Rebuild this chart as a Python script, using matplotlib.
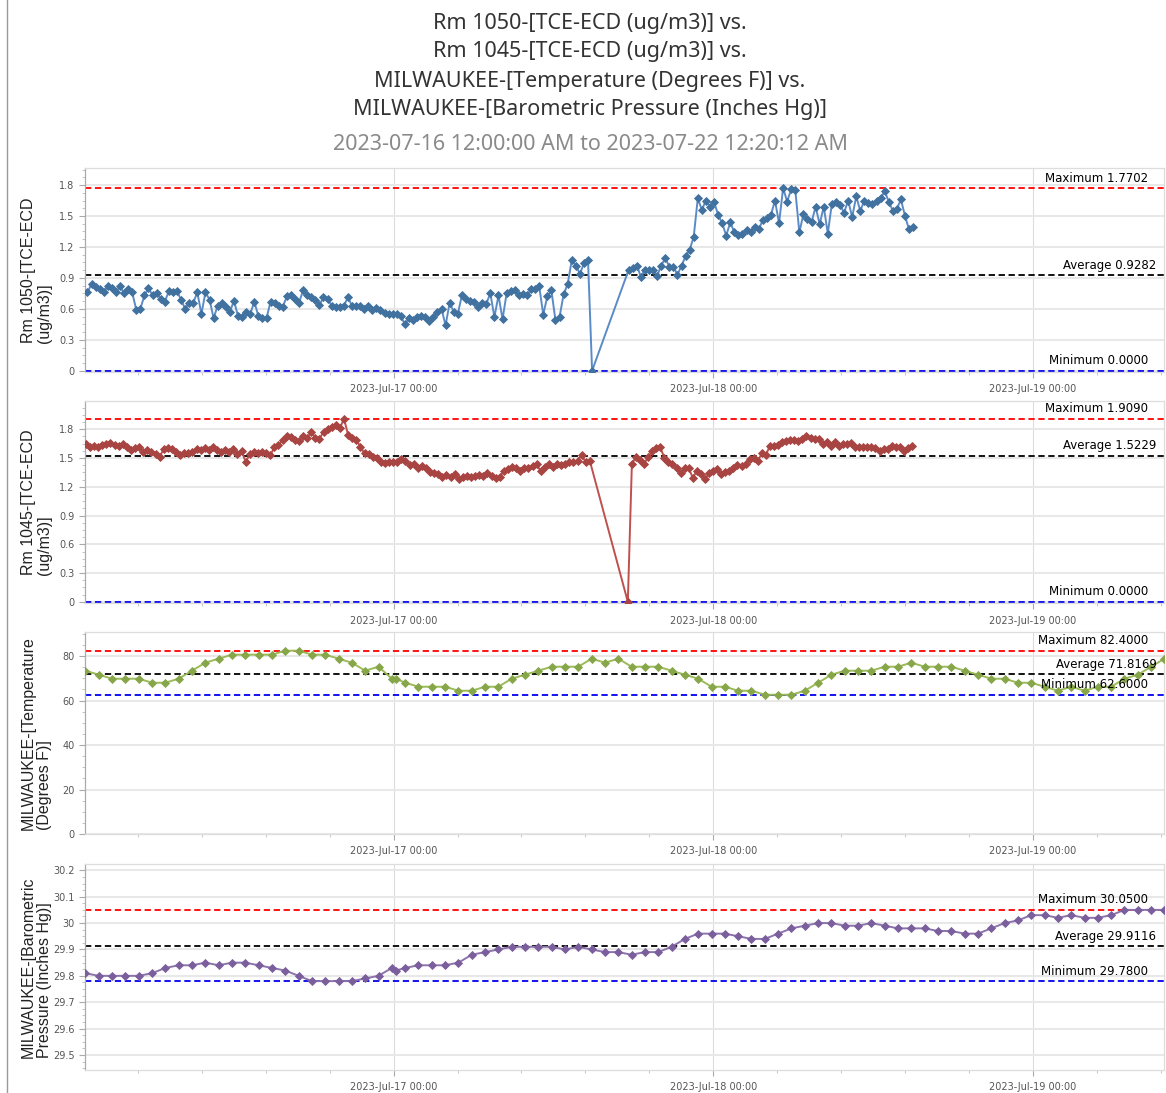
import numpy as np
import pandas as pd
import matplotlib
matplotlib.use("Agg")
import matplotlib.pyplot as plt
import matplotlib.dates as mdates
from matplotlib.ticker import MultipleLocator, FuncFormatter
from matplotlib.lines import Line2D

# ---------------- data ----------------
# Rm 1050 TCE-ECD, two runs separated by a gap in sampling
rm1050_a = [0.76, 0.84, 0.81, 0.79, 0.76, 0.82, 0.80, 0.76, 0.82, 0.75, 0.79, 0.76, 0.59, 0.60,
            0.73, 0.80, 0.73, 0.75, 0.70, 0.67, 0.77, 0.76, 0.77, 0.69, 0.60, 0.66, 0.66, 0.76,
            0.55, 0.76, 0.69, 0.51, 0.63, 0.66, 0.62, 0.57, 0.68, 0.53, 0.52, 0.57, 0.55, 0.67,
            0.53, 0.51, 0.51, 0.67, 0.66, 0.63, 0.62, 0.72, 0.73, 0.70, 0.66, 0.78, 0.73, 0.71,
            0.69, 0.64, 0.71, 0.70, 0.63, 0.62, 0.62, 0.63, 0.71, 0.63, 0.63, 0.63, 0.60, 0.63,
            0.59, 0.61, 0.59, 0.56, 0.55, 0.55, 0.55, 0.53, 0.45, 0.51, 0.49, 0.52, 0.53, 0.52,
            0.48, 0.52, 0.57, 0.60, 0.44, 0.66, 0.57, 0.55, 0.73, 0.70, 0.68, 0.67, 0.62, 0.66,
            0.65, 0.75, 0.52, 0.73, 0.50, 0.75, 0.77, 0.78, 0.73, 0.745, 0.73, 0.79, 0.79, 0.82,
            0.545, 0.72, 0.78, 0.49, 0.52, 0.74, 0.84, 1.07, 1.02, 0.94, 1.04, 1.07, 0.00]
rm1050_a_span = ("2023-07-16 01:01", "2023-07-17 14:54")
rm1050_b = [0.98, 1.00, 1.02, 0.91, 0.98, 0.98, 0.98, 0.92, 1.02, 1.09, 1.01, 1.01, 0.93, 1.02,
            1.11, 1.17, 1.30, 1.67, 1.56, 1.65, 1.59, 1.64, 1.51, 1.43, 1.31, 1.44, 1.34, 1.32,
            1.33, 1.36, 1.34, 1.39, 1.37, 1.46, 1.48, 1.51, 1.65, 1.43, 1.7702, 1.64, 1.76, 1.75,
            1.34, 1.52, 1.47, 1.44, 1.59, 1.42, 1.59, 1.33, 1.62, 1.64, 1.61, 1.53, 1.65, 1.49,
            1.69, 1.55, 1.65, 1.63, 1.62, 1.65, 1.67, 1.74, 1.64, 1.55, 1.57, 1.66, 1.50, 1.37, 1.39]
rm1050_b_span = ("2023-07-17 17:39", "2023-07-18 15:00")

# Rm 1045 TCE-ECD
rm1045_a = [1.643, 1.618, 1.63, 1.618, 1.635, 1.643, 1.66, 1.635, 1.63, 1.643, 1.61, 1.583, 1.60,
            1.61, 1.566, 1.583, 1.566, 1.538, 1.514, 1.594, 1.60, 1.594, 1.56, 1.531, 1.548, 1.556,
            1.566, 1.594, 1.583, 1.60, 1.583, 1.618, 1.583, 1.566, 1.583, 1.566, 1.594, 1.538, 1.573,
            1.46, 1.538, 1.566, 1.548, 1.566, 1.548, 1.531, 1.61, 1.635, 1.688, 1.733, 1.722, 1.688,
            1.678, 1.733, 1.705, 1.775, 1.712, 1.70, 1.775, 1.80, 1.826, 1.844, 1.816, 1.909, 1.74,
            1.705, 1.688, 1.618, 1.548, 1.538, 1.514, 1.496, 1.455, 1.444, 1.455, 1.455, 1.462, 1.49,
            1.469, 1.427, 1.434, 1.399, 1.42, 1.399, 1.357, 1.34, 1.33, 1.305, 1.322, 1.305, 1.33,
            1.28, 1.305, 1.315, 1.305, 1.315, 1.322, 1.315, 1.34, 1.315, 1.295, 1.305, 1.364, 1.385,
            1.409, 1.392, 1.364, 1.392, 1.399, 1.42, 1.434, 1.364, 1.409, 1.441, 1.409, 1.441, 1.427,
            1.441, 1.455, 1.462, 1.469, 1.531, 1.455, 1.469]
rm1045_a_span = ("2023-07-16 00:54", "2023-07-17 14:44")
rm1045_b = [0.0, 1.441, 1.51, 1.476, 1.441, 1.51, 1.573, 1.60, 1.61, 1.504, 1.462, 1.434, 1.399,
            1.34, 1.392, 1.392, 1.295, 1.364, 1.33, 1.28, 1.34, 1.364, 1.385, 1.33, 1.357, 1.364,
            1.392, 1.427, 1.42, 1.441, 1.486, 1.504, 1.469, 1.548, 1.531, 1.63, 1.63, 1.635, 1.663,
            1.678, 1.688, 1.688, 1.678, 1.698, 1.733, 1.705, 1.698, 1.698, 1.643, 1.663, 1.63, 1.663,
            1.63, 1.643, 1.643, 1.653, 1.61, 1.61, 1.61, 1.61, 1.618, 1.60, 1.573, 1.594, 1.594,
            1.63, 1.61, 1.61, 1.573, 1.60, 1.63]
rm1045_b_span = ("2023-07-17 17:35", "2023-07-18 14:55")

# MILWAUKEE hourly observations (:52) plus one special report just after midnight
weather_start = "2023-07-16 00:52"
weather_hours = 82
extra_obs_time = "2023-07-17 00:10"
extra_obs_index = 24
temperature = [73.4, 71.6, 69.8, 69.8, 69.8, 68.0, 68.0, 69.8, 73.4, 77.0, 78.8, 80.6, 80.6, 80.6,
               80.6, 82.4, 82.4, 80.6, 80.6, 78.8, 77.0, 73.4, 75.2, 69.8, 69.8, 68.0, 66.2, 66.2,
               66.2, 64.4, 64.4, 66.2, 66.2, 69.8, 71.6, 73.4, 75.2, 75.2, 75.2, 78.8, 77.0, 78.8,
               75.2, 75.2, 75.2, 73.4, 71.6, 69.8, 66.2, 66.2, 64.4, 64.4, 62.6, 62.6, 62.6, 64.4,
               68.0, 71.6, 73.4, 73.4, 73.4, 75.2, 75.2, 77.0, 75.2, 75.2, 75.2, 73.4, 71.6, 69.8,
               69.8, 68.0, 68.0, 66.2, 64.4, 66.2, 64.4, 66.2, 66.2, 69.8, 71.6, 75.2, 78.8]
pressure = [29.81, 29.80, 29.80, 29.80, 29.80, 29.81, 29.83, 29.84, 29.84, 29.85, 29.84, 29.85,
            29.85, 29.84, 29.83, 29.82, 29.80, 29.78, 29.78, 29.78, 29.78, 29.79, 29.80, 29.83,
            29.82, 29.83, 29.84, 29.84, 29.84, 29.85, 29.88, 29.89, 29.90, 29.91, 29.91, 29.91,
            29.91, 29.90, 29.91, 29.90, 29.89, 29.89, 29.88, 29.89, 29.89, 29.91, 29.94, 29.96,
            29.96, 29.96, 29.95, 29.94, 29.94, 29.96, 29.98, 29.99, 30.00, 30.00, 29.99, 29.99,
            30.00, 29.99, 29.98, 29.98, 29.98, 29.97, 29.97, 29.96, 29.96, 29.98, 30.00, 30.01,
            30.03, 30.03, 30.02, 30.03, 30.02, 30.02, 30.03, 30.05, 30.05, 30.05, 30.05]

# summary statistics shown on each panel: (maximum, average, minimum)
stats_1050 = (1.7702, 0.9282, 0.0)
stats_1045 = (1.9090, 1.5229, 0.0)
stats_temp = (82.4, 71.8169, 62.6)
stats_press = (30.05, 29.9116, 29.78)

title_lines = ["Rm 1050-[TCE-ECD (ug/m3)] vs.",
               "Rm 1045-[TCE-ECD (ug/m3)] vs.",
               "MILWAUKEE-[Temperature (Degrees F)] vs.",
               "MILWAUKEE-[Barometric Pressure (Inches Hg)]"]
subtitle = "2023-07-16 12:00:00 AM to 2023-07-22 12:20:12 AM"

# ---------------- build series ----------------
def seg_times(span, n):
    return pd.date_range(span[0], span[1], periods=n)

t1050 = seg_times(rm1050_a_span, len(rm1050_a)).append(seg_times(rm1050_b_span, len(rm1050_b)))
v1050 = rm1050_a + rm1050_b
t1045 = seg_times(rm1045_a_span, len(rm1045_a)).append(seg_times(rm1045_b_span, len(rm1045_b)))
v1045 = rm1045_a + rm1045_b
t_weather = pd.date_range(weather_start, periods=weather_hours, freq="h")
t_weather = t_weather.insert(extra_obs_index, pd.Timestamp(extra_obs_time))

W, H = 1166, 1093
fig = plt.figure(figsize=(W / 100, H / 100), dpi=100)


def px_rect(l, t, r, b):
    return [l / W, 1 - b / H, (r - l) / W, (b - t) / H]


panels = [
    dict(rect=(85, 168, 1164, 372), t=t1050, v=v1050, ylim=(-0.012, 1.965), major=0.3, minor=0.075,
         line="#5b8bc6", mark="#41729f", stats=stats_1050, fmt="{:.4f}",
         ylabel="Rm 1050-[TCE-ECD\n(ug/m3)]"),
    dict(rect=(85, 401, 1164, 603), t=t1045, v=v1045, ylim=(-0.012, 2.095), major=0.3, minor=0.075,
         line="#c0504d", mark="#a84442", stats=stats_1045, fmt="{:.4f}",
         ylabel="Rm 1045-[TCE-ECD\n(ug/m3)]"),
    dict(rect=(85, 632, 1164, 834), t=t_weather, v=temperature, ylim=(0, 90.8), major=20, minor=5,
         line="#9bbb59", mark="#87a64a", stats=stats_temp, fmt="{:.4f}",
         ylabel="MILWAUKEE-[Temperature\n(Degrees F)]"),
    dict(rect=(85, 864, 1164, 1070), t=t_weather, v=pressure, ylim=(29.443, 30.224), major=0.1,
         minor=0.025, line="#8c73ad", mark="#7a5f9c", stats=stats_press, fmt="{:.4f}",
         ylabel="MILWAUKEE-[Barometric\nPressure (Inches Hg)]"),
]

x0 = mdates.date2num(pd.Timestamp("2023-07-16 00:50"))
x1 = mdates.date2num(pd.Timestamp("2023-07-19 09:50"))

for p in panels:
    ax = fig.add_axes(px_rect(*p["rect"]))
    ax.set_xlim(x0, x1)
    ax.set_ylim(*p["ylim"])

    ax.yaxis.set_major_locator(MultipleLocator(p["major"]))
    ax.yaxis.set_minor_locator(MultipleLocator(p["minor"]))
    ax.yaxis.set_major_formatter(FuncFormatter(lambda v, pos: f"{round(v, 3):g}"))
    ax.xaxis.set_major_locator(MultipleLocator(1.0))
    ax.xaxis.set_minor_locator(MultipleLocator(0.2))
    ax.xaxis.set_major_formatter(mdates.DateFormatter("%Y-%b-%d %H:%M"))

    ax.tick_params(axis="both", which="major", labelsize=7, labelcolor="#555555",
                   color="#aaaaaa", length=4, width=0.8)
    ax.tick_params(axis="both", which="minor", color="#bbbbbb", length=2.5, width=0.6)
    ax.tick_params(axis="x", pad=5)
    for lab in ax.get_xticklabels() + ax.get_yticklabels():
        lab.set_family(["Liberation Sans Narrow", "DejaVu Sans"])

    ax.grid(True, axis="y", which="major", color="#e8e8e8", lw=1.5)
    ax.grid(True, axis="x", which="major", color="#dcdcdc", lw=0.8)
    ax.set_axisbelow(True)
    for side, sp in ax.spines.items():
        sp.set_color("#aaaaaa" if side == "left" else "#dddddd")
        sp.set_linewidth(0.9)

    ax.plot(p["t"], p["v"], color=p["line"], lw=1.4, marker="D", ms=3.7,
            mfc=p["mark"], mec=p["mark"], mew=0.6, zorder=3)

    smax, savg, smin = p["stats"]
    for val, col, name, frac in [(smax, "#ff0000", "Maximum", 0.985),
                                 (savg, "#000000", "Average", 0.993),
                                 (smin, "#0000ee", "Minimum", 0.985)]:
        ax.axhline(val, color=col, ls=(0, (3.5, 2)), lw=1.3, zorder=2)
        ax.annotate(f"{name} {p['fmt'].format(val)}", xy=(frac, val),
                    xycoords=("axes fraction", "data"), xytext=(0, 2.5),
                    textcoords="offset points", ha="right", va="bottom",
                    fontsize=8.5, color="black", family="DejaVu Sans", zorder=4)

    ax.set_ylabel(p["ylabel"], fontsize=11.5, family="Liberation Sans", color="#222222",
                  multialignment="left", linespacing=1.05)
    ax.yaxis.set_label_coords(-0.031, 0.5)

# title block
title_y = [23, 52, 81, 110]
for line, y in zip(title_lines, title_y):
    fig.text(590 / W, 1 - y / H, line, ha="center", va="center", fontsize=15.5,
             family="Noto Sans", color="#333333")
fig.text(590 / W, 1 - 144 / H, subtitle, ha="center", va="center", fontsize=15.5,
         family="Noto Sans", color="#8a8a8a")

fig.add_artist(Line2D([7 / W, 7 / W], [0, 1], color="#9a9a9a", lw=1.0))

fig.savefig("out.png", dpi=100)
